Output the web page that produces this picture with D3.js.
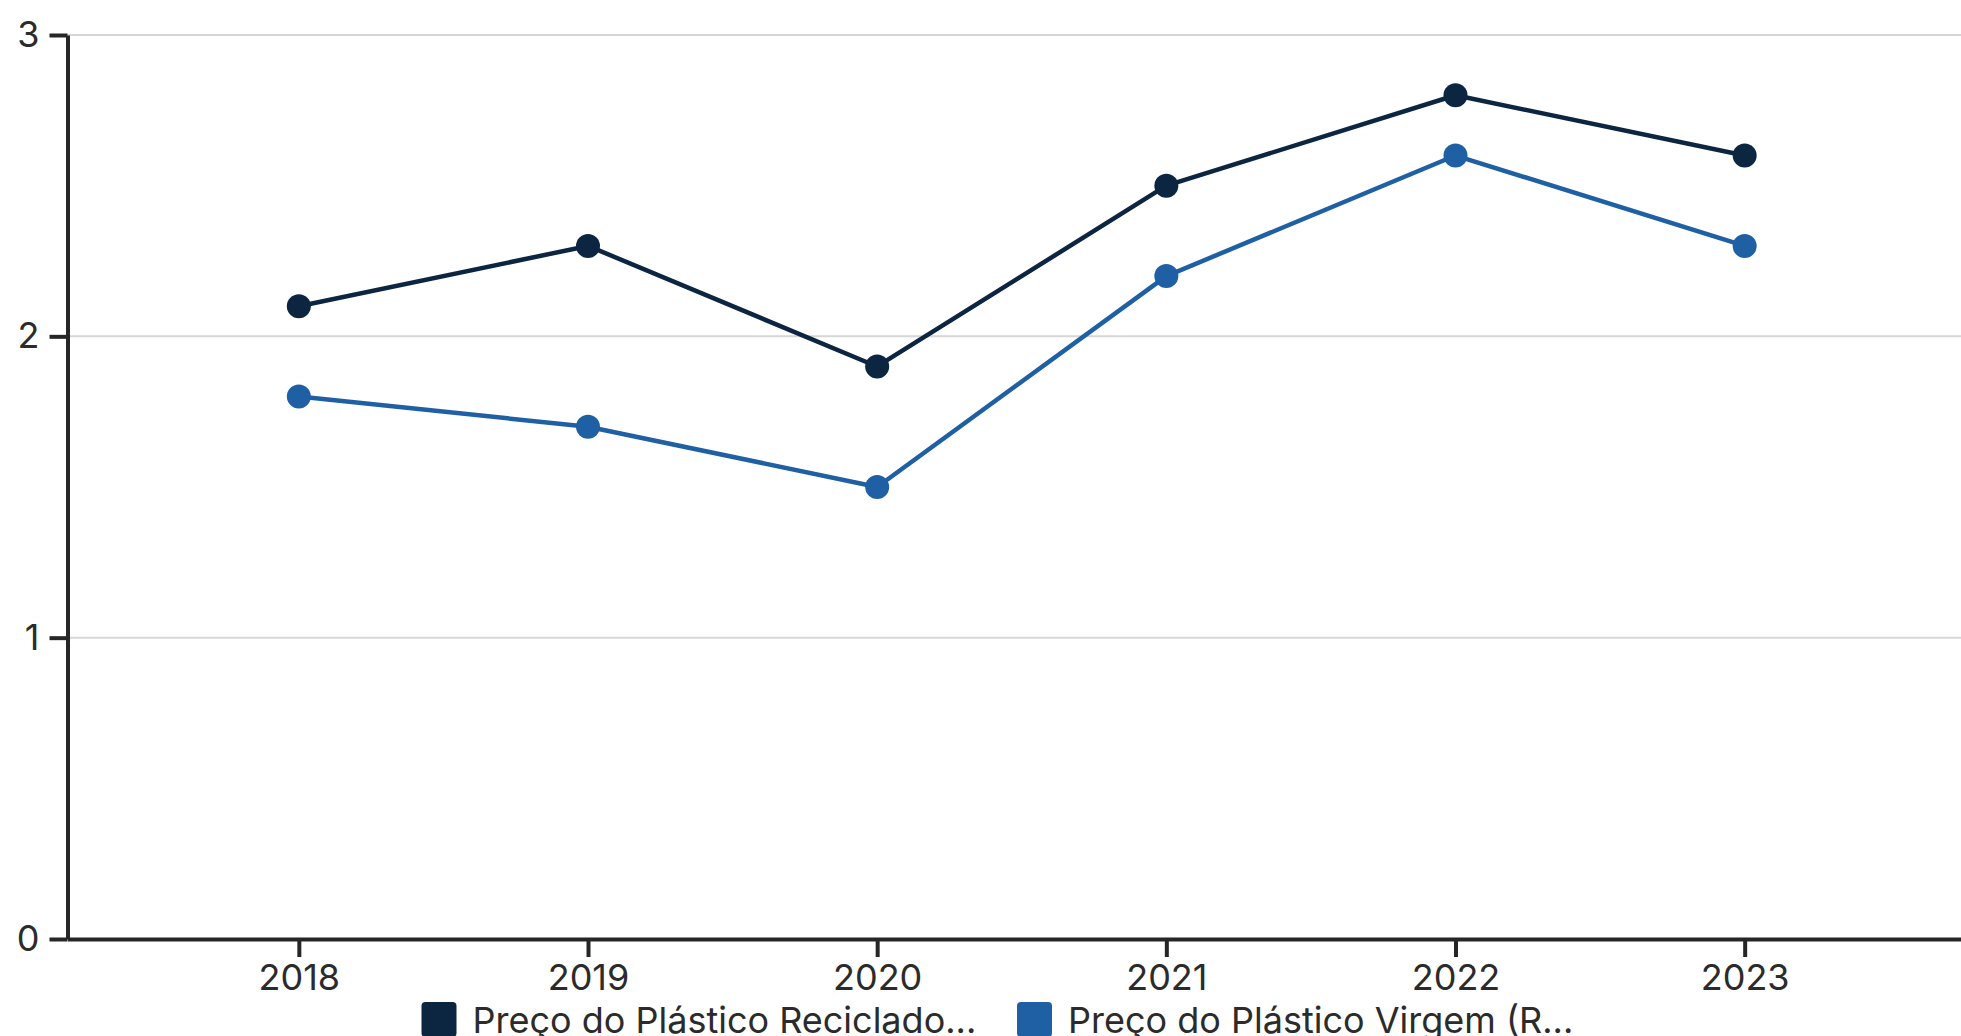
<!DOCTYPE html>
<html>
<head>
<meta charset="utf-8">
<script src="https://cdn.jsdelivr.net/npm/d3@7"></script>
<style>
  html, body { margin: 0; padding: 0; background: #fff; overflow: hidden; }
  svg { display: block; font-family: Inter, "Noto Sans", sans-serif; }
</style>
</head>
<body>
<svg id="chart" width="1961" height="1036"></svg>
<script>
// Price series, R$ per kg
const years = ["2018", "2019", "2020", "2021", "2022", "2023"];
const recycledPrice = [2.1, 2.3, 1.9, 2.5, 2.8, 2.6];
const virginPrice = [1.8, 1.7, 1.5, 2.2, 2.6, 2.3];
const seriesNames = ["Preço do Plástico Reciclado...", "Preço do Plástico Virgem (R..."];
const yTicks = [0, 1, 2, 3];

const colors = ["#0c2541", "#1f5fa3"];
const series = [
  { name: seriesNames[0], values: recycledPrice, color: colors[0] },
  { name: seriesNames[1], values: virginPrice, color: colors[1] }
];

const svg = d3.select("#chart");
const plot = { left: 67.5, right: 1976, top: 35, bottom: 939 };
const fontSize = "36px";

const x = d3.scalePoint().domain(years).range([plot.left, plot.right]).padding(0.8);
const y = d3.scaleLinear().domain([0, 3]).range([plot.bottom, plot.top]);

// horizontal gridlines
svg.append("g")
  .selectAll("line")
  .data(yTicks.filter(d => d > 0))
  .join("line")
  .attr("x1", plot.left).attr("x2", plot.right)
  .attr("y1", d => y(d)).attr("y2", d => y(d))
  .attr("stroke", "#d6d6d6").attr("stroke-width", 2);

// y axis
const yAxis = svg.append("g")
  .attr("transform", `translate(${plot.left},0)`)
  .call(d3.axisLeft(y).tickValues(yTicks).tickFormat(d3.format("d")).tickSize(18).tickPadding(10).tickSizeOuter(0));
yAxis.select(".domain").attr("stroke", "#262626").attr("stroke-width", 4);
yAxis.selectAll(".tick line").attr("stroke", "#262626").attr("stroke-width", 4);
yAxis.selectAll(".tick text").attr("fill", "#2b2b2b").style("font-size", fontSize).style("font-family", "Inter, sans-serif");

// x axis
const xAxis = svg.append("g")
  .attr("transform", `translate(0,${plot.bottom})`)
  .call(d3.axisBottom(x).tickSize(18).tickPadding(7).tickSizeOuter(0));
xAxis.select(".domain").attr("stroke", "#262626").attr("stroke-width", 4);
xAxis.selectAll(".tick line").attr("stroke", "#262626").attr("stroke-width", 4);
xAxis.selectAll(".tick text").attr("fill", "#2b2b2b").style("font-size", fontSize).style("font-family", "Inter, sans-serif");

// lines and points
const line = d3.line().x((d, i) => x(years[i])).y(d => y(d));
series.forEach(s => {
  svg.append("path")
    .datum(s.values)
    .attr("d", line)
    .attr("fill", "none")
    .attr("stroke", s.color)
    .attr("stroke-width", 4.5)
    .attr("stroke-linejoin", "round");
  svg.append("g")
    .selectAll("circle")
    .data(s.values)
    .join("circle")
    .attr("cx", (d, i) => x(years[i]))
    .attr("cy", d => y(d))
    .attr("r", 12)
    .attr("fill", s.color);
});

// legend
const legendX = [421.5, 1017];
const legend = svg.append("g");
series.forEach((s, i) => {
  const g = legend.append("g").attr("transform", `translate(${legendX[i]},1002)`);
  g.append("rect").attr("width", 35).attr("height", 35).attr("rx", 4).attr("fill", s.color);
  g.append("text")
    .attr("x", 51).attr("y", 17.5)
    .attr("dominant-baseline", "central")
    .attr("fill", "#2b2b2b")
    .style("font-size", fontSize)
    .text(s.name);
});
</script>
</body>
</html>
